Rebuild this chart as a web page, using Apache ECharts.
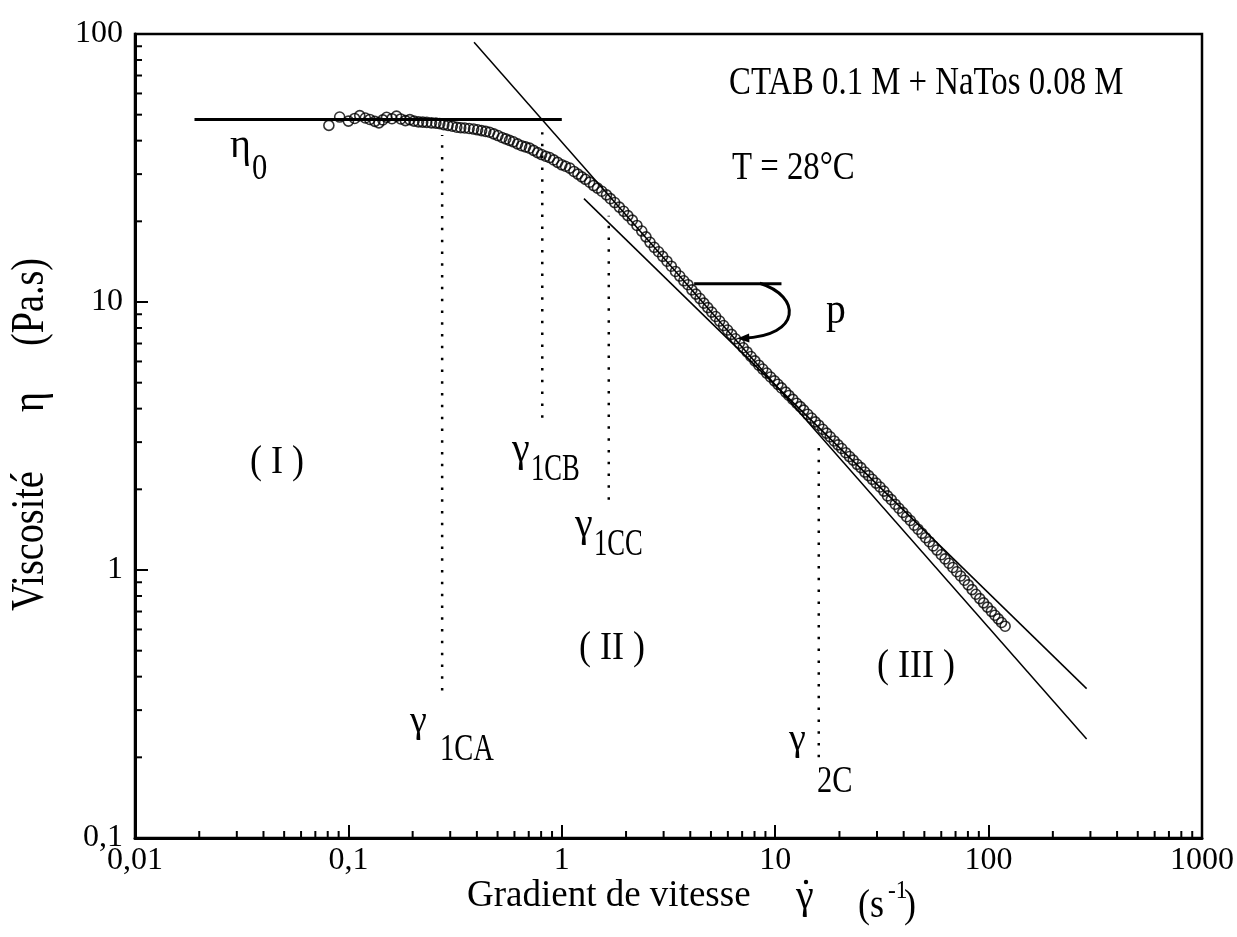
<!DOCTYPE html>
<html><head><meta charset="utf-8">
<script src="https://cdn.jsdelivr.net/npm/echarts@6/dist/echarts.min.js"></script>
<style>html,body{margin:0;padding:0;background:#fff}#c{width:1237px;height:937px}</style>
</head><body><div id="c"></div>
<script>
// ---- data ----
const shearRate = [0.081,0.091,0.100,0.107,0.113,0.120,0.126,0.133,0.139,0.145,0.151,0.160,0.168,0.176,0.185,0.194,0.203,0.213,0.223,0.233,0.245,0.257,0.268,0.280,0.293,0.307,0.322,0.336,0.351,0.368,0.386,0.403,0.421,0.440,0.459,0.480,0.502,0.525,0.546,0.569,0.593,0.620,0.648,0.676,0.706,0.737,0.770,0.804,0.840,0.877,0.916,0.956,1.00,1.04,1.09,1.14,1.19,1.24,1.29,1.35,1.41,1.47,1.54,1.62,1.69,1.77,1.86,1.95,2.04,2.14,2.25,2.37,2.48,2.59,2.71,2.84,2.97,3.11,3.26,3.41,3.57,3.73,3.90,4.07,4.25,4.44,4.63,4.83,5.04,5.26,5.49,5.73,5.98,6.24,6.51,6.79,7.08,7.38,7.70,8.03,8.38,8.74,9.12,9.51,9.92,10.3,10.7,11.2,11.6,12.1,12.6,13.1,13.6,14.2,14.8,15.4,16.0,16.7,17.4,18.1,18.9,19.7,20.5,21.4,22.3,23.2,24.2,25.2,26.3,27.4,28.5,29.7,31.0,32.3,33.6,35.0,36.5,38.0,39.6,41.3,43.0,44.8,46.7,48.7,50.7,52.8,55.0,57.3,60.0,62.5,65.2,68.0,70.9,73.9,77.0,80.3,83.7,87.2,90.9,94.7,98.7,103,107,111,115,119.5];
const viscosity = [45.6,49.0,47.3,48.4,49.6,48.6,48.0,47.2,46.6,47.8,48.9,48.3,49.4,48.2,47.5,47.9,47.3,47.0,46.9,46.8,46.6,46.5,46.3,45.9,45.6,45.3,44.9,44.7,44.6,44.4,44.2,43.9,43.6,43.3,43.0,42.4,41.8,41.1,40.6,40.1,39.6,38.9,38.3,37.9,37.5,36.8,36.1,35.5,35.0,34.6,33.9,33.2,32.5,32.1,31.6,30.7,30.0,29.3,28.7,28.0,27.2,26.6,25.9,25.1,24.3,23.5,22.6,21.8,21.0,20.2,19.3,18.4,17.5,16.7,16.0,15.4,14.8,14.2,13.6,13.0,12.5,12.0,11.6,11.1,10.7,10.3,9.90,9.53,9.17,8.83,8.49,8.17,7.86,7.57,7.29,7.02,6.75,6.51,6.26,6.03,5.81,5.62,5.43,5.25,5.08,4.93,4.78,4.61,4.48,4.33,4.19,4.07,3.95,3.81,3.69,3.57,3.47,3.35,3.24,3.14,3.03,2.93,2.84,2.74,2.65,2.57,2.48,2.41,2.32,2.25,2.18,2.11,2.04,1.97,1.89,1.83,1.76,1.70,1.64,1.58,1.53,1.47,1.42,1.37,1.32,1.275,1.23,1.187,1.14,1.10,1.06,1.022,0.985,0.950,0.916,0.880,0.845,0.812,0.782,0.754,0.727,0.701,0.678,0.657,0.637,0.617];

const xTickLabels = ['0,01','0,1','1','10','100','1000'];
const yTickLabels = ['0,1','1','10','100'];
const xDecades = [0.01,0.1,1,10,100];
const yDecades = [0.1,1,10];
const minorMultipliers = [2,3,4,5,6,7,8,9];

// fitted lines (data units)
const eta0LineX = [0.019, 1.0];      const eta0LineY = [48, 48];
const steepLineX = [0.388, 288];     const steepLineY = [93.1, 0.234];
const shallowLineX = [1.27, 288];    const shallowLineY = [24.3, 0.361];
// critical shear rates (dotted verticals)
const criticalX = [0.275, 0.81, 1.66, 16];
const criticalTop = [42, 43, 21, 3.0];
const criticalBottom = [0.355, 3.7, 1.83, 0.2];
// slope "p" sign
const slopeBarX = [4.17, 10.7];      const slopeBarY = [11.7, 11.7];
const slopeArcX = [8.47, 13.3, 13.3, 6.64];
const slopeArcY = [11.75, 10.5, 7.47, 7.31];

const FONT = '"Liberation Serif", "Times New Roman", serif';
const pairs = (xs, ys) => xs.map((x, i) => [x, ys[i]]);
const xMinor = [], yMinor = [];
xDecades.forEach(d => minorMultipliers.forEach(m => xMinor.push(+(d * m).toPrecision(3))));
yDecades.forEach(d => minorMultipliers.forEach(m => yMinor.push(+(d * m).toPrecision(3))));

const lbl = (i, arr) => arr[Math.max(0, Math.min(arr.length - 1, i))];

function txt(text, x, y, size, sx, opt) {
  opt = opt || {};
  const a = opt.align || 'left';
  return {
    type: 'text', x: x, y: y, scaleX: sx, rotation: opt.rot || 0, z: 100,
    style: { text: text, font: size + 'px ' + FONT, fill: '#000',
      textAlign: a, align: a, textVerticalAlign: 'middle', verticalAlign: 'middle' }
  };
}

const lineSeries = (data, width, extra) => Object.assign({
  type: 'line', data: data, symbol: 'none', silent: true, z: 3,
  lineStyle: { color: '#000', width: width }, animation: false
}, extra || {});

const series = [];
series.push(lineSeries(pairs(eta0LineX, eta0LineY), 3));
series.push(lineSeries(pairs(steepLineX, steepLineY), 1.5));
series.push(lineSeries(pairs(shallowLineX, shallowLineY), 1.5));
series.push(lineSeries(pairs(slopeBarX, slopeBarY), 3));
criticalX.forEach((x, i) => {
  series.push(lineSeries([[x, criticalBottom[i]], [x, criticalTop[i]]], 2.5,
    { lineStyle: { color: '#000', width: 2.5, type: [2.5, 9.3], cap: 'butt' } }));
});
// slope arc with arrow
series.push({
  type: 'custom', coordinateSystem: 'cartesian2d', silent: true, clip: false, z: 4,
  data: [[slopeArcX[0], slopeArcY[0]]],
  renderItem: function (params, api) {
    const p = slopeArcX.map((x, i) => api.coord([x, slopeArcY[i]]));
    const e = p[3], c = p[2];
    let dx = e[0] - c[0], dy = e[1] - c[1];
    const L = Math.hypot(dx, dy); dx /= L; dy /= L;
    const nx = -dy, ny = dx, len = 12, w = 4.5;
    return { type: 'group', children: [
      { type: 'bezierCurve', shape: { x1: p[0][0], y1: p[0][1], cpx1: p[1][0], cpy1: p[1][1], cpx2: p[2][0], cpy2: p[2][1], x2: e[0] - dx * 6, y2: e[1] - dy * 6 },
        style: { stroke: '#000', lineWidth: 3, fill: null } },
      { type: 'polygon', shape: { points: [[e[0], e[1]], [e[0] - dx * len + nx * w, e[1] - dy * len + ny * w], [e[0] - dx * len - nx * w, e[1] - dy * len - ny * w]] },
        style: { fill: '#000' } }
    ]};
  }
});
// minor ticks
series.push({
  type: 'custom', coordinateSystem: 'cartesian2d', silent: true, clip: false, z: 5,
  data: xMinor.map(v => [v, 0.1]),
  renderItem: function (params, api) {
    const p = api.coord([api.value(0), api.value(1)]);
    return { type: 'line', shape: { x1: p[0], y1: p[1], x2: p[0], y2: p[1] - 7 }, style: { stroke: '#000', lineWidth: 2 } };
  }
});
series.push({
  type: 'custom', coordinateSystem: 'cartesian2d', silent: true, clip: false, z: 5,
  data: yMinor.map(v => [0.01, v]),
  renderItem: function (params, api) {
    const p = api.coord([api.value(0), api.value(1)]);
    return { type: 'line', shape: { x1: p[0], y1: p[1], x2: p[0] + 7, y2: p[1] }, style: { stroke: '#000', lineWidth: 2 } };
  }
});
// measured points
series.push({
  type: 'scatter', data: pairs(shearRate, viscosity), symbol: 'circle', symbolSize: 10, z: 6,
  itemStyle: { color: 'rgba(0,0,0,0)', borderColor: '#000', borderWidth: 1.6 }, silent: true
});

const chart = echarts.init(document.getElementById('c'), null, { renderer: 'canvas' });
chart.setOption({
  animation: false,
  backgroundColor: '#fff',
  grid: { left: 135, top: 34, width: 1069, height: 804, show: true, borderColor: '#000', borderWidth: 2.5, backgroundColor: 'transparent' },
  xAxis: {
    type: 'log', logBase: 10, min: 0.01, max: 1000,
    axisLine: { show: true, onZero: false, lineStyle: { color: '#000', width: 3 } },
    axisTick: { show: true, inside: true, length: 13, lineStyle: { color: '#000', width: 2 } },
    minorTick: { show: false }, splitLine: { show: false },
    axisLabel: { color: '#000', fontFamily: FONT, fontSize: 32, margin: 7,
      formatter: v => lbl(Math.round(Math.log10(v)) + 2, xTickLabels) }
  },
  yAxis: {
    type: 'log', logBase: 10, min: 0.1, max: 100,
    axisLine: { show: true, onZero: false, lineStyle: { color: '#000', width: 3 } },
    axisTick: { show: true, inside: true, length: 13, lineStyle: { color: '#000', width: 2 } },
    minorTick: { show: false }, splitLine: { show: false },
    axisLabel: { color: '#000', fontFamily: FONT, fontSize: 32, margin: 12,
      formatter: v => lbl(Math.round(Math.log10(v)) + 1, yTickLabels) }
  },
  series: series,
  graphic: { elements: [
    txt('CTAB 0.1 M + NaTos 0.08 M', 729, 83, 40, 0.82),
    txt('T = 28°C', 732, 168, 40, 0.82),
    txt('η', 230, 146, 40, 1),
    txt('0', 252, 170, 36, 0.85),
    txt('( I )', 277, 462, 40, 0.9, { align: 'center' }),
    txt('( II )', 612, 648, 40, 0.9, { align: 'center' }),
    txt('( III )', 916, 666, 40, 0.9, { align: 'center' }),
    txt('p', 826, 311, 44, 0.9),
    txt('γ', 512, 450, 40, 1), txt('1CB', 531, 470, 38, 0.7),
    txt('γ', 575, 525, 40, 1), txt('1CC', 594, 545, 38, 0.7),
    txt('γ', 410, 722, 38, 1), txt('1CA', 440, 750, 38, 0.75),
    txt('γ', 789, 740, 38, 1), txt('2C', 817, 782, 38, 0.8),
    txt('Gradient de vitesse', 467, 896, 37, 1),
    txt('γ', 796, 897, 40, 1),
    { type: 'circle', shape: { cx: 806, cy: 882, r: 2.2 }, style: { fill: '#000' }, z: 100 },
    txt('(s', 858, 906, 40, 0.9),
    txt('-1', 888, 891, 26, 0.9),
    txt(')', 904, 906, 40, 0.9),
    txt('Viscosité', 31, 611, 46, 0.83, { rot: Math.PI / 2 }),
    txt('η', 31, 412, 46, 0.83, { rot: Math.PI / 2 }),
    txt('(Pa.s)', 31, 346, 46, 0.83, { rot: Math.PI / 2 })
  ]}
});
</script></body></html>
